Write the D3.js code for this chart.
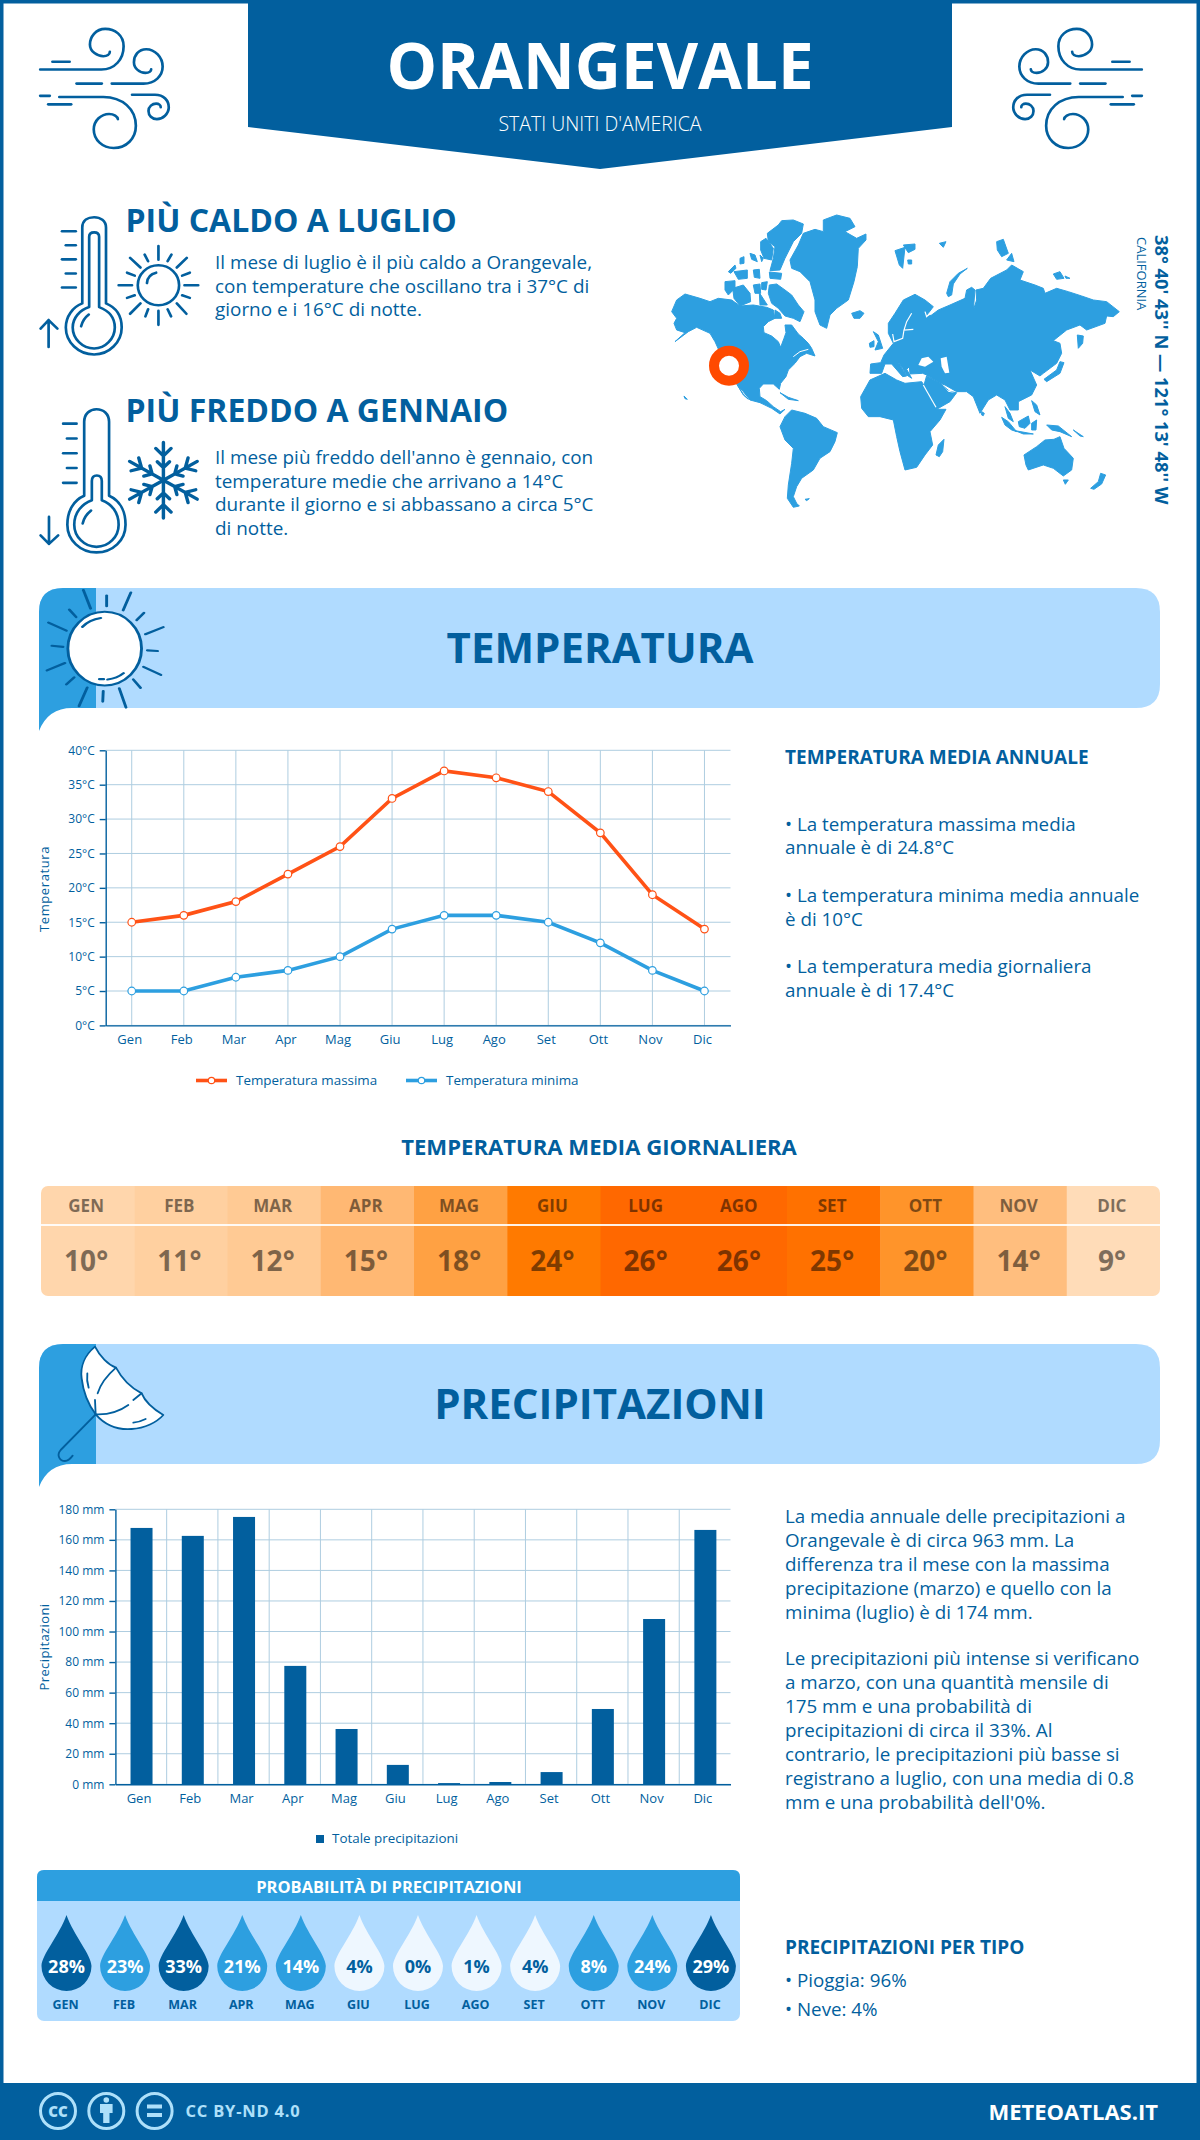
<!DOCTYPE html>
<html>

<head>
  <meta charset="utf-8">
  <title>Orangevale</title>
  <script src="https://d3js.org/d3.v7.min.js"></script>
  <style>
    body { margin: 0; background: #fff; }
    svg { display: block; }
    text { font-family: "Open Sans", sans-serif; fill: #025f9e; }
    .icon { fill: none; stroke: #025f9e; stroke-linecap: round; stroke-linejoin: round; }
  </style>
</head>

<body>
  <svg width="1200" height="2140"></svg>
  <script>
    // dati
    var months = ["Gen", "Feb", "Mar", "Apr", "Mag", "Giu", "Lug", "Ago", "Set", "Ott", "Nov", "Dic"];
    var monthsUpper = ["GEN", "FEB", "MAR", "APR", "MAG", "GIU", "LUG", "AGO", "SET", "OTT", "NOV", "DIC"];
    var tempMax = [15, 16, 18, 22, 26, 33, 37, 36, 34, 28, 19, 14];
    var tempMin = [5, 5, 7, 8, 10, 14, 16, 16, 15, 12, 8, 5];
    var tempTicks = [0, 5, 10, 15, 20, 25, 30, 35, 40];
    var tempDaily = [10, 11, 12, 15, 18, 24, 26, 26, 25, 20, 14, 9];
    var rain = [167.8, 162.6, 175, 77.5, 36.2, 12.7, 0.8, 1.5, 8, 49.3, 108.2, 166.5];
    var rainTicks = [0, 20, 40, 60, 80, 100, 120, 140, 160, 180];
    var rainProb = [28, 23, 33, 21, 14, 4, 0, 1, 4, 8, 24, 29];

    var hotText = ["Il mese di luglio è il più caldo a Orangevale,", "con temperature che oscillano tra i 37°C di", "giorno e i 16°C di notte."];
    var coldText = ["Il mese più freddo dell'anno è gennaio, con", "temperature medie che arrivano a 14°C", "durante il giorno e si abbassano a circa 5°C", "di notte."];
    var annualText = ["• La temperatura massima media", "annuale è di 24.8°C", "• La temperatura minima media annuale", "è di 10°C", "• La temperatura media giornaliera", "annuale è di 17.4°C"];
    var rainText = ["La media annuale delle precipitazioni a", "Orangevale è di circa 963 mm. La", "differenza tra il mese con la massima", "precipitazione (marzo) e quello con la", "minima (luglio) è di 174 mm.", "", "Le precipitazioni più intense si verificano", "a marzo, con una quantità mensile di", "175 mm e una probabilità di", "precipitazioni di circa il 33%. Al", "contrario, le precipitazioni più basse si", "registrano a luglio, con una media di 0.8", "mm e una probabilità dell'0%."];

    var BLUE = "#025f9e", MID = "#2d9fe0", LIGHT = "#b0dbff", GRID = "#aecde0", ORANGE = "#ff5216";
    var svg = d3.select("svg");

    function label(parent, x, y, str, size, weight, anchor) {
      return parent.append("text").attr("x", x).attr("y", y).text(str)
        .style("font-size", size + "px").style("font-weight", weight || 400)
        .attr("text-anchor", anchor || "start");
    }

    // cornice e testata
    svg.append("rect").attr("x", 1.75).attr("y", 1.75).attr("width", 1196.5).attr("height", 2136)
      .attr("fill", "none").attr("stroke", BLUE).attr("stroke-width", 3.5);
    svg.append("path").attr("d", "M248,0H952V127L600,169L248,127Z").attr("fill", BLUE);
    label(svg, 600, 89, "ORANGEVALE", 63.7, 700, "middle").style("fill", "#fff");
    label(svg, 600, 131, "STATI UNITI D'AMERICA", 19.5, 300, "middle").style("fill", "#fff");

    // vento (coordinate del disegno, poi scalate)
    var windPaths = [
      "M105,188H265C300,188 323,160 323,125C323,95 300,78 275,78C250,78 235,100 235,120C235,140 255,152 270,152C280,152 287,147 287,140",
      "M137,167H182", "M200,226H266",
      "M292,226H375C405,226 425,205 425,180C425,155 405,133 382,133C362,133 350,150 350,168C350,185 365,197 380,197C390,197 395,192 395,187",
      "M105,259H130",
      "M155,262H270C320,262 355,295 355,340C355,375 330,400 297,400C268,400 245,378 245,350C245,325 265,308 285,308C298,308 307,315 308,322",
      "M126,282H186",
      "M345,256H405C428,256 441,272 441,290C441,308 425,322 410,322C397,322 388,312 388,300C388,288 398,280 408,280C415,280 420,285 420,290"
    ];
    [{ t: "scale(0.3827,0.37)" }, { t: "translate(1182,0) scale(-0.3827,0.37)" }].forEach(function (w) {
      svg.append("g").attr("class", "icon").attr("transform", w.t).attr("stroke-width", 7)
        .selectAll("path").data(windPaths).enter().append("path").attr("d", function (d) { return d; });
    });

    // termometri, sole, fiocco di neve
    var iconHot = svg.append("g").attr("class", "icon").attr("transform", "scale(0.3827,0.37)").attr("stroke-width", 7);
    [
      "M215,820V615C215,595 230,587 246,587C262,587 277,597 277,615V820C305,832 318,855 318,885C318,925 285,958 246,958C205,958 172,925 172,885C172,855 190,830 215,820Z",
      "M233,830V640C233,632 238,628 246,628C254,628 259,632 259,640V830C285,840 300,860 300,885C300,915 275,942 246,942C215,942 190,915 190,885C190,860 208,838 233,830Z",
      "M212,882C215,868 222,858 232,850",
      "M162,625H198", "M172,663H198", "M162,701H198", "M172,739H198", "M162,777H198",
      "M127,938V865M106,888L127,865L150,888",
      "M384,765C385,750 395,740 408,737",
      "M414,665V702M414,840V878M310,771H345M482,771H518M340,697L367,723M488,697L462,723M340,848L367,820M487,848L462,820",
      "M378,688L387,706M448,688L438,706M332,737L352,745M496,737L476,745M332,805L352,798M496,805L476,798M380,855L387,836M447,855L438,836"
    ].forEach(function (d) { iconHot.append("path").attr("d", d); });
    iconHot.append("circle").attr("cx", 414).attr("cy", 771).attr("r", 54);

    var iconCold = svg.append("g").attr("class", "icon").attr("transform", "scale(0.3827,0.37)").attr("stroke-width", 7);
    [
      "M220,1340V1140C220,1118 235,1106 252,1106C270,1106 285,1118 285,1140V1340C312,1352 328,1380 328,1418C328,1460 295,1493 252,1493C210,1493 176,1460 176,1418C176,1380 193,1352 220,1340Z",
      "M240,1352V1300C240,1290 245,1285 253,1285C261,1285 266,1290 266,1300V1352C292,1362 310,1385 310,1418C310,1450 285,1478 252,1478C220,1478 194,1450 194,1418C194,1385 214,1362 240,1352Z",
      "M216,1415C219,1400 226,1390 238,1380",
      "M165,1145H200", "M175,1185H200", "M165,1225H200", "M175,1265H200", "M165,1305H200",
      "M128,1397V1470M106,1447L128,1470L152,1447"
    ].forEach(function (d) { iconCold.append("path").attr("d", d); });
    d3.range(6).forEach(function (i) {
      iconCold.append("path").attr("stroke-width", 9)
        .attr("transform", "translate(427,1298) rotate(" + (i * 60) + ")")
        .attr("d", "M0,0V-102M-20,-86L0,-66L20,-86M-16,-50L0,-34L16,-50");
    });

    // testi di apertura
    label(svg, 125.5, 232, "PIÙ CALDO A LUGLIO", 32, 700);
    label(svg, 125.5, 422, "PIÙ FREDDO A GENNAIO", 32, 700);
    hotText.forEach(function (s, i) { label(svg, 215, 269 + i * 23.6, s, 18.9); });
    coldText.forEach(function (s, i) { label(svg, 215, 464 + i * 23.6, s, 18.9); });

    // mappa del mondo, disegnata a mano
    var mapWest = [
      "M35,305L50,270L75,252L120,265L150,275L175,265L215,270L240,288L280,285L320,292L340,300L345,325L325,335L310,350L312,368L335,378L355,395L362,412L372,385L378,368L375,345L395,345L415,372L430,385L445,400L455,415L465,438L440,430L420,440L405,460L385,480L378,500L362,520L358,538L340,522L310,522L298,535L300,560L320,572L340,590L362,605L375,598L360,612L335,595L300,578L270,570L250,545L228,520L190,450L165,395L150,370L110,352L85,365L45,395L75,368L50,360L42,340L50,325Z",
      "M232,525L248,550L265,568L250,555Z",
      "M328,225L350,222L375,240L395,255L415,285L432,305L420,335L400,325L375,318L355,295L335,280L325,250Z",
      "M322,70L355,45L365,32L400,30L430,42L425,70L400,95L375,145L360,180L330,182L340,145L345,110L325,95Z",
      "M302,95L318,85L340,115L335,150L312,145L302,120Z",
      "M328,186L365,190L362,208L330,205Z", "M280,180L298,178L300,205L283,202Z",
      "M218,235L250,225L270,250L272,275L240,288L222,265Z", "M195,215L225,212L225,235L205,255L195,240Z",
      "M205,185L225,165L228,175L212,190Z", "M222,185L262,180L262,205L235,208Z", "M240,145L252,140L252,160L240,162Z", "M270,130L285,135L292,155L275,148Z",
      "M305,218L322,215L318,240L305,238Z", "M280,225L300,222L302,250L285,250Z", "M298,248L322,285L300,285Z", "M345,300L360,310L365,325L345,325Z", "M300,135L310,145L305,155Z",
      "M390,150L415,105L430,70L465,58L490,65L490,30L530,15L570,25L585,50L555,65L590,85L618,72L618,90L595,115L592,170L582,215L565,270L530,295L510,315L500,355L480,345L465,305L465,270L450,215L420,185L395,175Z",
      "M575,310L600,302L612,310L600,325L582,325Z", "M72,558L82,568L75,566Z",
      "M360,548L385,562L415,572L385,568Z",
      "M360,650L375,620L395,600L435,610L470,625L490,650L532,668L525,695L510,725L480,745L460,780L425,805L410,830L400,860L410,880L418,888L400,892L382,865L385,825L395,760L400,715L375,690Z",
      "M435,868L448,866L440,872Z"
    ];
    var mapEast = [
      "M30,490L32,462L62,458L72,435L100,400L85,370L85,340L105,310L130,270L165,253L195,270L220,290L205,310L195,322L215,315L235,300L270,285L315,265L320,240L335,232L345,240L340,300L350,270L348,240L370,235L392,205L440,180L455,165L490,185L480,210L525,225L550,235L555,250L590,235L625,245L665,258L700,270L740,275L778,305L760,320L740,318L735,340L680,360L660,345L620,360L580,392L600,400L605,430L590,460L550,490L540,498L510,480L530,525L515,555L475,575L475,600L450,600L435,570L410,555L385,570L360,610L340,560L320,545L290,545L255,525L240,520L200,495L188,490L150,492L148,470L140,478L155,505L140,495L128,475L110,450L140,498L128,500L95,462L75,462L65,490Z",
      "M2,560L30,510L75,490L110,510L135,520L185,515L195,530L230,598L258,598L240,630L210,665L218,705L195,735L170,772L135,780L120,725L110,680L100,630L60,620L25,620L5,595Z",
      "M200,497L240,520L270,545L290,548L270,575L230,598L215,570L192,525Z",
      "M228,735L235,705L252,688L248,725L238,740Z",
      "M40,365L55,375L68,415L45,420L55,395Z", "M28,400L42,392L42,410L30,412Z",
      "M105,122L135,112L128,175L118,165Z", "M130,105L165,102L165,118L145,128Z", "M143,150L155,150L155,162L145,162Z", "M238,100L258,95L250,112Z",
      "M260,250L270,215L295,190L322,175L300,192L280,222L275,255L265,260Z",
      "M410,95L430,88L445,130L425,140L412,120Z", "M440,150L455,130L462,155Z", "M580,192L600,185L612,205L590,208Z", "M615,198L630,205L618,205Z",
      "M652,375L670,378L668,400L655,415Z",
      "M600,455L612,458L600,490L560,515L552,508L590,480Z",
      "M365,605L373,610L370,617L365,615Z",
      "M425,622L445,635L470,665L455,660L435,645Z", "M465,662L520,672L490,672Z", "M475,635L505,618L510,640L495,655L478,650Z",
      "M515,572L530,585L540,615L525,605Z", "M515,640L530,630L528,660L515,660Z",
      "M560,645L595,648L635,680L600,665L575,660Z", "M640,660L670,680L660,678Z", "M435,590L450,610L460,635L445,625Z",
      "M492,735L530,710L555,690L582,688L600,680L612,715L640,745L635,780L610,798L580,775L550,765L505,780L498,765Z",
      "M610,810L625,810L616,823Z", "M692,835L715,815L722,790L737,795L725,822L702,838Z"
    ];
    var mapSeasEast = [
      "M175,465L185,445L205,440L220,455L195,470Z", "M242,445L260,440L268,488L255,490L245,470Z", "M248,525L262,540L282,548L265,545Z"
    ];
    var westMap = svg.append("g").attr("transform", "translate(660,210) scale(0.3333)");
    westMap.selectAll("path").data(mapWest).enter().append("path").attr("d", function (d) { return d; })
      .attr("fill", MID).attr("stroke", MID).attr("stroke-width", 3).attr("stroke-linejoin", "round");
    westMap.append("path").attr("d", "M400,440L420,425L445,418").attr("fill", "none").attr("stroke", "#fff").attr("stroke-width", 3);
    var eastMap = svg.append("g").attr("transform", "translate(860,210) scale(0.3333)");
    eastMap.selectAll(".land").data(mapEast).enter().append("path").attr("d", function (d) { return d; })
      .attr("fill", MID).attr("stroke", MID).attr("stroke-width", 3).attr("stroke-linejoin", "round");
    mapSeasEast.forEach(function (d) { eastMap.append("path").attr("d", d).attr("fill", "#fff"); });
    ["M190,525L228,592", "M155,310L140,335L132,360L160,358M132,360L128,385L102,395L98,372", "M195,305L200,320L215,305"].forEach(function (d) {
      eastMap.append("path").attr("d", d).attr("fill", "none").attr("stroke", "#fff").attr("stroke-width", 3.5);
    });
    svg.append("circle").attr("cx", 729).attr("cy", 365.7).attr("r", 15).attr("fill", "#fff")
      .attr("stroke", "#ff4a00").attr("stroke-width", 10);

    svg.append("g").attr("transform", "translate(1155,235) rotate(90)").call(function (g) {
      label(g, 0, 0, "38° 40' 43'' N — 121° 13' 48'' W", 18.3, 700);
    });
    svg.append("g").attr("transform", "translate(1137,237) rotate(90)").call(function (g) {
      label(g, 0, 0, "CALIFORNIA", 13, 400);
    });

    // fasce di sezione
    function banner(y0, title) {
      var y1 = y0 + 120, tail = y1 + 23;
      svg.append("path").attr("fill", LIGHT)
        .attr("d", "M39," + (y0 + 24) + "Q39," + y0 + " 63," + y0 + "H1136Q1160," + y0 + " 1160," + (y0 + 24) + "V" + (y1 - 24) + "Q1160," + y1 + " 1136," + y1 + "H72Z");
      svg.append("path").attr("fill", MID)
        .attr("d", "M39," + tail + "V" + (y0 + 24) + "Q39," + y0 + " 63," + y0 + "H96V" + y1 + "H72Q48," + y1 + " 39," + tail + "Z");
      label(svg, 600, y0 + 75, title, 42, 700, "middle");
    }
    banner(588, "TEMPERATURA");
    banner(1344, "PRECIPITAZIONI");

    var sunIcon = svg.append("g").attr("class", "icon").attr("transform", "translate(0,570) scale(0.4847,0.3509)").attr("stroke-width", 6);
    sunIcon.append("ellipse").attr("cx", 216).attr("cy", 224).attr("rx", 76).attr("ry", 105).attr("fill", "#fff");
    [
      "M172,57L187,110", "M220,73V103", "M270,64L254,115", "M297,122L282,143", "M337,163L300,183", "M325,231L304,229",
      "M332,299L296,276", "M290,336L275,312", "M260,392L246,337", "M212,375L213,345", "M163,388L180,335", "M137,326L153,306",
      "M97,286L134,265", "M107,216L130,219", "M100,150L137,173", "M143,113L157,134",
      "M170,162C180,148 195,140 208,137", "M222,312C235,310 245,305 255,294", "M205,311H214"
    ].forEach(function (d) { sunIcon.append("path").attr("d", d); });

    var umbrella = svg.append("g").attr("class", "icon").attr("transform", "translate(30,1335) scale(0.3333)").attr("stroke-width", 5.5);
    umbrella.append("path").attr("fill", "#fff")
      .attr("d", "M195,35C165,60 150,95 155,130C160,175 180,215 197,238C225,270 265,285 305,282C345,280 380,262 400,240C370,222 345,200 335,175C305,160 275,130 258,98C235,90 210,65 195,35Z");
    ["M258,98C235,118 212,145 203,175", "M197,238C240,240 270,228 295,210", "M310,195L335,175", "M197,238L195,195", "M172,115C170,130 172,145 176,158", "M310,263C325,262 335,258 347,252", "M197,238L92,345C78,362 90,378 105,378C115,378 122,370 128,362"]
      .forEach(function (d) { umbrella.append("path").attr("d", d); });

    // grafico delle temperature
    var tX = d3.scalePoint().domain(months).range([105.7, 730.5]).padding(0.5);
    var tY = d3.scaleLinear().domain([0, 40]).range([1025.4, 750.3]);
    var tGrid = svg.append("g");
    tGrid.selectAll(".h").data(tempTicks).enter().append("line")
      .attr("x1", 105.7).attr("x2", 730.5).attr("y1", tY).attr("y2", tY).attr("stroke", GRID);
    tGrid.selectAll(".v").data(months).enter().append("line")
      .attr("x1", tX).attr("x2", tX).attr("y1", 750.3).attr("y2", 1025.4).attr("stroke", GRID);

    function styleAxis(g, size) {
      g.selectAll(".domain, .tick line").attr("stroke", BLUE).attr("stroke-width", 1.4);
      g.selectAll("text").style("font-size", (size || 12) + "px").style("font-family", '"Open Sans", sans-serif').attr("fill", BLUE);
    }
    svg.append("g").attr("transform", "translate(105.7,0)")
      .call(d3.axisLeft(tY).tickValues(tempTicks).tickFormat(function (d) { return d + "°C"; }).tickSize(6).tickPadding(5).tickSizeOuter(0))
      .call(styleAxis);
    svg.append("g").attr("transform", "translate(0,1025.4)")
      .call(d3.axisBottom(tX).tickSize(0).tickPadding(9).tickSizeOuter(0))
      .call(styleAxis, 13).selectAll("text").attr("dx", -2.5);
    svg.append("g").attr("transform", "translate(49,889) rotate(-90)").call(function (g) {
      label(g, 0, 0, "Temperatura", 13, 400, "middle").style("letter-spacing", "0.6px");
    });

    var tLine = d3.line().x(function (d, i) { return tX(months[i]); }).y(function (d) { return tY(d); });
    [[tempMax, ORANGE], [tempMin, MID]].forEach(function (s) {
      svg.append("path").datum(s[0]).attr("d", tLine).attr("fill", "none").attr("stroke", s[1]).attr("stroke-width", 3.6);
      svg.append("g").selectAll("circle").data(s[0]).enter().append("circle")
        .attr("cx", function (d, i) { return tX(months[i]); }).attr("cy", function (d) { return tY(d); })
        .attr("r", 3.8).attr("fill", "#fff").attr("stroke", s[1]).attr("stroke-width", 1.2);
    });

    [[196, "Temperatura massima", ORANGE], [406, "Temperatura minima", MID]].forEach(function (l) {
      svg.append("line").attr("x1", l[0]).attr("x2", l[0] + 31).attr("y1", 1080.5).attr("y2", 1080.5).attr("stroke", l[2]).attr("stroke-width", 3.6);
      svg.append("circle").attr("cx", l[0] + 15.5).attr("cy", 1080.5).attr("r", 3.2).attr("fill", "#fff").attr("stroke", l[2]).attr("stroke-width", 1.2);
      label(svg, l[0] + 40, 1085, l[1], 13.4);
    });

    label(svg, 785, 764, "TEMPERATURA MEDIA ANNUALE", 19, 700);
    var annualY = [830.7, 854, 901.7, 926, 973, 996.7];
    annualText.forEach(function (s, i) { label(svg, 785, annualY[i], s, 18.8); });

    // temperature medie giornaliere
    label(svg, 599, 1154.7, "TEMPERATURA MEDIA GIORNALIERA", 22.1, 700, "middle");
    var heatColor = d3.scaleLinear()
      .domain([9, 12, 15, 18, 20, 24, 26])
      .range(["#ffdcb8", "#ffca94", "#ffb873", "#ffa143", "#ff942a", "#ff7a00", "#ff6800"]);
    var heatX = d3.scaleBand().domain(monthsUpper).range([41, 1160]);
    svg.append("clipPath").attr("id", "heatclip").append("rect")
      .attr("x", 41).attr("y", 1186).attr("width", 1119).attr("height", 110).attr("rx", 7);
    var heat = svg.append("g").attr("clip-path", "url(#heatclip)");
    heat.selectAll("rect").data(tempDaily).enter().append("rect")
      .attr("x", function (d, i) { return heatX(monthsUpper[i]); }).attr("y", 1186)
      .attr("width", heatX.bandwidth() + 0.5).attr("height", 110).attr("fill", function (d) { return heatColor(d); });
    heat.append("rect").attr("x", 41).attr("y", 1224).attr("width", 1119).attr("height", 2).attr("fill", "#fff").attr("opacity", 0.9);
    tempDaily.forEach(function (d, i) {
      var cx = heatX(monthsUpper[i]) + heatX.bandwidth() / 2 - 1.5;
      label(svg, cx, 1211.7, monthsUpper[i], 17, 700, "middle").style("fill", "#000").style("opacity", 0.5);
      label(svg, cx, 1270.7, d + "°", 28, 700, "middle").style("fill", "#000").style("opacity", 0.5);
    });

    // grafico delle precipitazioni
    var rX = d3.scaleBand().domain(months).range([115.4, 730.5]);
    var rY = d3.scaleLinear().domain([0, 180]).range([1784.3, 1509.3]);
    var rGrid = svg.append("g");
    rGrid.selectAll(".h").data(rainTicks).enter().append("line")
      .attr("x1", 115.4).attr("x2", 730.5).attr("y1", rY).attr("y2", rY).attr("stroke", GRID);
    rGrid.selectAll(".v").data(months.slice(1)).enter().append("line")
      .attr("x1", rX).attr("x2", rX).attr("y1", 1509.3).attr("y2", 1784.3).attr("stroke", GRID);
    svg.append("g").selectAll("rect").data(rain).enter().append("rect")
      .attr("x", function (d, i) { return rX(months[i]) + rX.bandwidth() / 2 - 10.5; })
      .attr("y", function (d) { return rY(d); }).attr("width", 22)
      .attr("height", function (d) { return rY(0) - rY(d); }).attr("fill", BLUE);
    svg.append("g").attr("transform", "translate(115.4,0)")
      .call(d3.axisLeft(rY).tickValues(rainTicks).tickFormat(function (d) { return d + " mm"; }).tickSize(6).tickPadding(5).tickSizeOuter(0))
      .call(styleAxis);
    svg.append("g").attr("transform", "translate(0,1784.3)")
      .call(d3.axisBottom(rX).tickSize(0).tickPadding(9).tickSizeOuter(0))
      .call(styleAxis, 13).selectAll("text").attr("dx", -2);
    svg.append("g").attr("transform", "translate(49,1647) rotate(-90)").call(function (g) {
      label(g, 0, 0, "Precipitazioni", 13, 400, "middle").style("letter-spacing", "0.4px");
    });
    svg.append("rect").attr("x", 316).attr("y", 1835).attr("width", 8).attr("height", 8).attr("fill", BLUE);
    label(svg, 332, 1843, "Totale precipitazioni", 13.4);

    var rainY = [1523, 1547, 1571, 1595, 1619, 0, 1665, 1689, 1713, 1736.5, 1760.5, 1784.6, 1808.7];
    rainText.forEach(function (s, i) { if (s) label(svg, 785, rainY[i], s, 18.8); });
    label(svg, 785, 1954, "PRECIPITAZIONI PER TIPO", 19, 700);
    label(svg, 785, 1987, "• Pioggia: 96%", 18.8);
    label(svg, 785, 2016, "• Neve: 4%", 18.8);

    // probabilita di precipitazioni
    svg.append("rect").attr("x", 37).attr("y", 1870).attr("width", 703).attr("height", 151).attr("rx", 7).attr("fill", LIGHT);
    svg.append("path").attr("d", "M37,1901V1877Q37,1870 44,1870H733Q740,1870 740,1877V1901Z").attr("fill", MID);
    label(svg, 389, 1892.7, "PROBABILITÀ DI PRECIPITAZIONI", 16.5, 700, "middle").style("fill", "#fff");
    var dropX = d3.scalePoint().domain(monthsUpper).range([37, 740]).padding(0.5);
    var dropColor = d3.scaleThreshold().domain([5, 25]).range(["#eef7ff", MID, BLUE]);
    var drops = svg.append("g").selectAll("g").data(rainProb).enter().append("g")
      .attr("transform", function (d, i) { return "translate(" + (dropX(monthsUpper[i]) + 0.2) + ",0)"; });
    drops.append("path").attr("d", "M0,1915C7,1935 25,1955 25,1966A25,25 0 1 1 -25,1966C-25,1955 -7,1935 0,1915Z")
      .attr("fill", function (d) { return dropColor(d); });
    drops.append("text").attr("y", 1972.7).attr("text-anchor", "middle").text(function (d) { return d + "%"; })
      .style("font-size", "18px").style("font-weight", 700)
      .style("fill", function (d) { return d < 5 ? BLUE : "#fff"; });
    drops.append("text").attr("y", 2009).attr("x", -1).attr("text-anchor", "middle").text(function (d, i) { return monthsUpper[i]; })
      .style("font-size", "12.5px").style("font-weight", 700);

    // pie di pagina
    svg.append("rect").attr("x", 0).attr("y", 2083).attr("width", 1200).attr("height", 57).attr("fill", BLUE);
    var FOOT = "#aee0fa";
    [58, 106.3, 154.6].forEach(function (cx) {
      svg.append("circle").attr("cx", cx).attr("cy", 2111).attr("r", 17.5).attr("fill", "none").attr("stroke", FOOT).attr("stroke-width", 3);
    });
    label(svg, 58, 2116.5, "CC", 15, 800, "middle").style("fill", FOOT);
    svg.append("circle").attr("cx", 106.3).attr("cy", 2100).attr("r", 2.8).attr("fill", FOOT);
    svg.append("path").attr("d", "M100,2104H112.6V2113H109.5V2123H103.2V2113H100Z").attr("fill", FOOT);
    svg.append("path").attr("d", "M147,2104.5H162V2108.5H147ZM147,2113H162V2117H147Z").attr("fill", FOOT);
    label(svg, 185.5, 2117, "CC BY-ND 4.0", 16.5, 700).style("fill", FOOT).style("letter-spacing", "0.8px");
    label(svg, 1158, 2120, "METEOATLAS.IT", 22, 700, "end").style("fill", "#fff");
  </script>
</body>

</html>
